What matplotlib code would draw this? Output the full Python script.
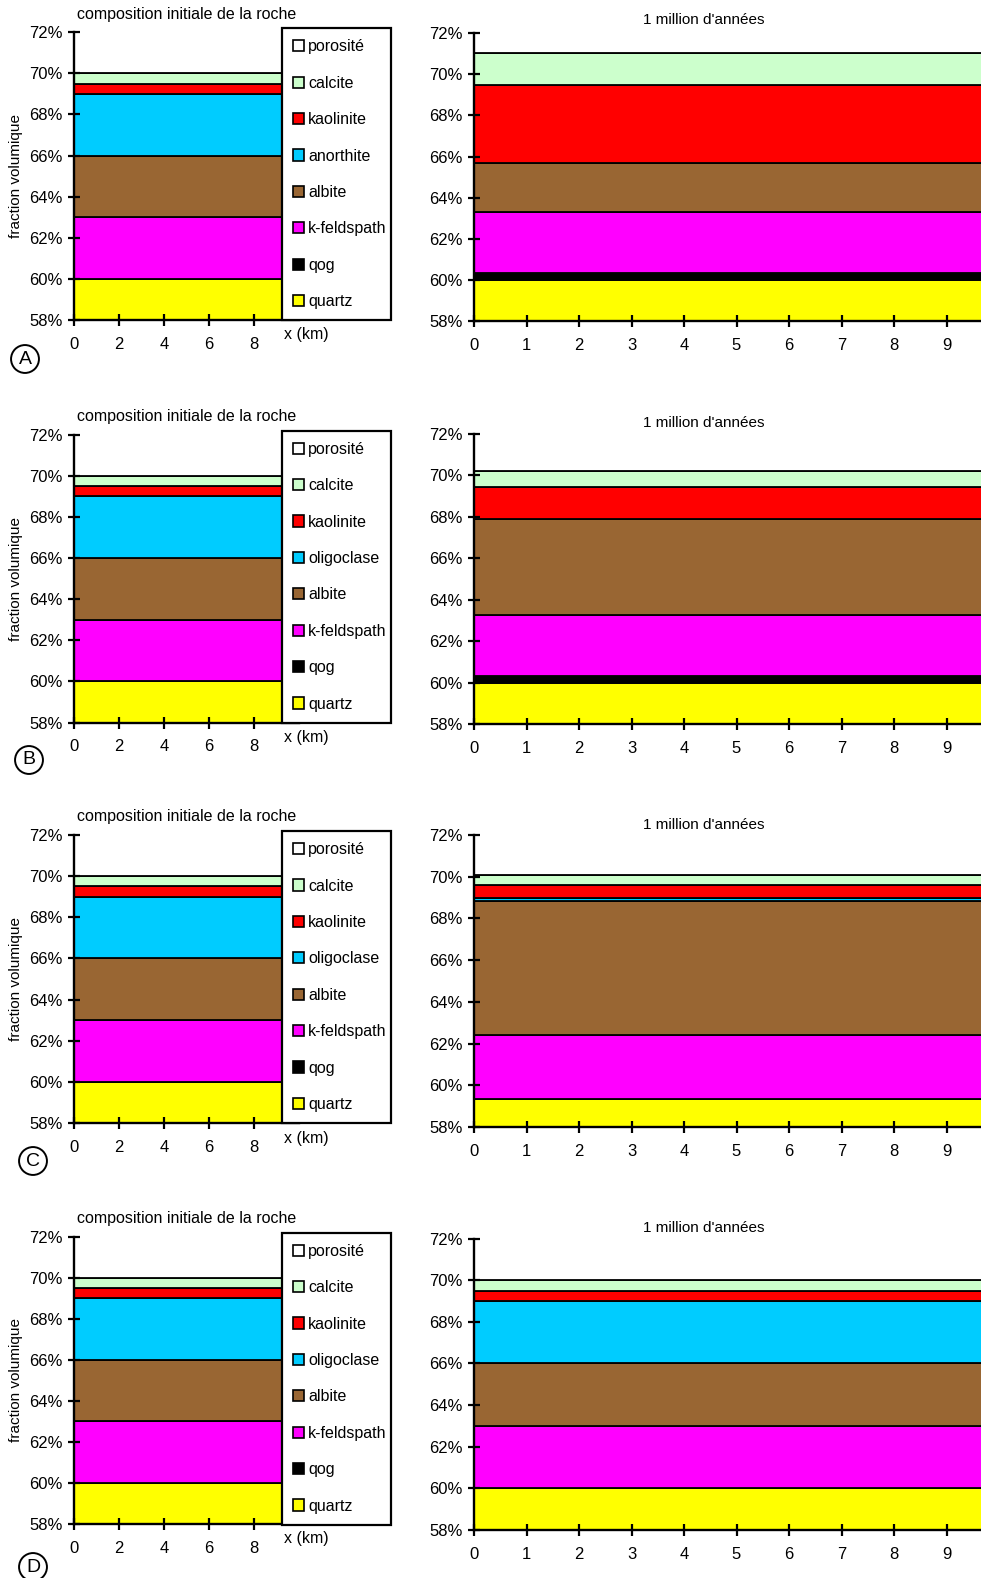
import matplotlib
matplotlib.use('Agg')
import matplotlib.pyplot as plt
from matplotlib.patches import Patch
from matplotlib.ticker import PercentFormatter

plt.rcParams['font.family'] = ['Liberation Sans', 'DejaVu Sans']

W, H = 981, 1578

# stacking order, bottom to top
minerals = ['quartz', 'qog', 'k-feldspath', 'albite', 'plagio', 'kaolinite', 'calcite', 'porosité']
colors = ['#FFFF00', '#000000', '#FF00FF', '#996633', '#00CCFF', '#FF0000', '#CCFFCC', '#FFFFFF']
plagio_names = ['anorthite', 'oligoclase', 'oligoclase', 'oligoclase']
row_letters = ['A', 'B', 'C', 'D']

# volume fractions (%) per mineral, same order as minerals
initial = [60.0, 0.0, 3.0, 3.0, 3.0, 0.5, 0.5, 30.0]
final_A = [60.0, 0.32, 2.98, 2.41, 0.0, 3.79, 1.52, 28.98]
final_B = [60.0, 0.32, 2.94, 4.63, 0.0, 1.52, 0.77, 29.82]
final_C = [59.35, 0.0, 3.08, 6.42, 0.15, 0.62, 0.48, 29.9]
final_D = [60.0, 0.0, 3.0, 3.0, 3.0, 0.5, 0.5, 30.0]
finals = [final_A, final_B, final_C, final_D]

x_left = [0, 10]
x_right = [0, 11]

# layout in pixels: (left top, left bottom, right top, right bottom)
rows = [(32.2, 320.0, 33.2, 321.0),
        (434.6, 722.5, 433.6, 724.4),
        (835.0, 1123.0, 835.0, 1127.0),
        (1236.6, 1524.0, 1238.6, 1530.0)]
left_title_y = [14, 416.5, 817, 1219]
right_title_y = [20, 422.6, 825, 1228]
circle_pos = [(25, 359), (29, 760), (33, 1161), (33, 1567)]

fig = plt.figure(figsize=(W / 100, H / 100), dpi=100)


def px_axes(x0, x1, y0, y1):
    return fig.add_axes([x0 / W, 1 - y1 / H, (x1 - x0) / W, (y1 - y0) / H])


def style(ax):
    for s in ['top', 'right']:
        ax.spines[s].set_visible(False)
    for s in ['left', 'bottom']:
        ax.spines[s].set_linewidth(1.7)
        ax.spines[s].set_zorder(5)
    ax.set_ylim(58, 72)
    ax.set_yticks([58, 60, 62, 64, 66, 68, 70, 72])
    ax.yaxis.set_major_formatter(PercentFormatter(decimals=0))
    ax.tick_params(axis='both', direction='inout', length=8, width=1.6, labelsize=12, colors='black')
    ax.tick_params(axis='y', pad=4)
    ax.tick_params(axis='x', pad=8)


def stack(ax, x, vals):
    ys = [[v, v] for v in vals]
    ax.stackplot(x, ys, colors=colors, edgecolor='black', linewidth=1.3)


for i in range(4):
    lt, lb, rt, rb = rows[i]

    # initial composition
    ax = px_axes(74, 299, lt, lb)
    stack(ax, x_left, initial)
    ax.set_xlim(0, 10)
    ax.set_xticks([0, 2, 4, 6, 8])
    style(ax)
    fig.text(187 / W, 1 - left_title_y[i] / H, 'composition initiale de la roche',
             ha='center', va='center', fontsize=11.5)
    fig.text(16 / W, 1 - (lt + lb) / 2 / H, 'fraction volumique', rotation=90,
             ha='center', va='center', fontsize=11)
    fig.text(306 / W, 1 - (lb + 15) / H, 'x (km)', ha='center', va='center', fontsize=11.5)

    labels = ['porosité', 'calcite', 'kaolinite', plagio_names[i], 'albite', 'k-feldspath', 'qog', 'quartz']
    handles = [Patch(facecolor=c, edgecolor='black', linewidth=1.2) for c in colors[::-1]]
    leg = ax.legend(handles, labels, loc='upper left', mode='expand',
                    bbox_to_anchor=(282 / W, 1 - (lt - 4) / H, 109 / W, 0),
                    bbox_transform=fig.transFigure,
                    borderaxespad=0, fontsize=11.5, fancybox=False, framealpha=1,
                    edgecolor='black', handlelength=0.7, handleheight=0.7,
                    handletextpad=0.25, labelspacing=1.34, borderpad=0.7)
    leg.get_frame().set_linewidth(1.6)
    leg.set_zorder(10)

    cx, cy = circle_pos[i]
    fig.text(cx / W, 1 - cy / H, row_letters[i], ha='center', va='center', fontsize=14,
             bbox=dict(boxstyle='circle,pad=0.28', fc='none', ec='black', lw=1.4))

    # after 1 million years
    ax2 = px_axes(474, 474 + 52.5 * 11, rt, rb)
    stack(ax2, x_right, finals[i])
    ax2.set_xlim(0, 11)
    ax2.set_xticks(range(0, 10))
    style(ax2)
    fig.text(704 / W, 1 - right_title_y[i] / H, "1 million d'années",
             ha='center', va='center', fontsize=11)

fig.savefig('out.png', dpi=100)
